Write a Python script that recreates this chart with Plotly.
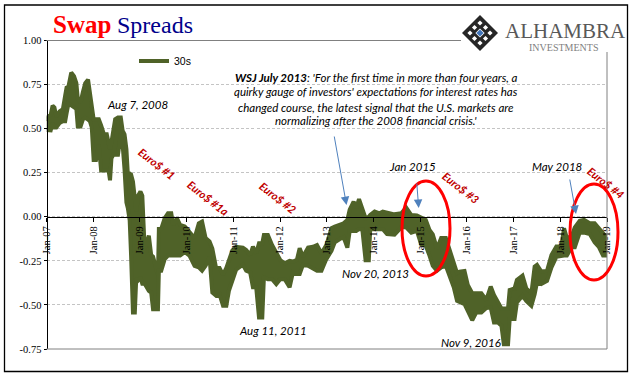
import pandas as pd
import plotly.graph_objects as go

# decimal year of each reading, with the top and bottom of the daily 30s swap spread band at that time
years = [2007.00,2007.04,2007.09,2007.13,2007.17,2007.21,2007.28,2007.35,2007.40,2007.43,2007.47,2007.53,2007.59,2007.64,2007.67,2007.73,2007.78,2007.83,2007.89,2007.93,2007.97,
 2008.01,2008.06,2008.12,2008.17,2008.23,2008.29,2008.33,2008.36,2008.39,2008.43,2008.47,2008.53,2008.59,2008.63,2008.67,2008.71,2008.74,2008.78,2008.81,2008.85,2008.89,2008.92,2008.96,
 2009.01,2009.05,2009.10,2009.19,2009.24,2009.28,2009.385,2009.405,2009.455,2009.53,2009.60,2009.67,2009.71,2009.79,2009.86,2009.96,
 2010.06,2010.17,2010.26,2010.33,2010.405,2010.49,2010.55,2010.63,2010.705,2010.78,2010.85,2010.905,2010.98,
 2011.06,2011.205,2011.275,2011.36,2011.42,2011.49,2011.55,2011.62,2011.655,2011.74,2011.83,2011.92,
 2012.005,2012.10,2012.205,2012.275,2012.36,2012.42,2012.49,2012.60,2012.705,2012.79,2012.885,2012.99,
 2013.10,2013.17,2013.28,2013.36,2013.44,2013.49,2013.575,2013.63,2013.69,2013.76,2013.83,2013.90,2013.93,
 2014.025,2014.13,2014.20,2014.29,2014.45,2014.595,2014.70,2014.81,2014.93,
 2015.02,2015.12,2015.20,2015.27,2015.36,2015.45,2015.55,2015.63,2015.72,2015.79,2015.844,2015.95,
 2016.02,2016.115,2016.20,2016.31,2016.415,2016.51,2016.58,2016.665,2016.74,2016.79,2016.88,2016.915,
 2017.02,2017.07,2017.19,2017.27,2017.38,2017.45,2017.50,2017.59,2017.715,2017.81,2017.915,
 2018.02,2018.08,2018.14,2018.24,2018.31,2018.415,2018.51,2018.63,2018.735,2018.83,2018.915,2019.00]
upper = [.543,.57,.578,.63,.62,.568,.598,.61,.688,.733,.738,.818,.798,.758,.668,.648,.708,.758,.778,.688,.628,
 .553,.553,.553,.518,.468,.468,.423,.383,.423,.488,.553,.563,.563,.488,.468,.383,.245,.245,.24,.20,.10,.03,.12,
 .143,.12,-.18,-.107,-.217,-.226,-.33,-.069,-.069,-.008,.02,.02,-.046,-.008,-.046,-.055,
 -.084,-.12,-.037,-.027,-.12,-.14,-.18,-.29,-.29,-.33,-.29,-.245,-.19,
 -.17,-.175,-.188,-.217,-.169,-.207,-.15,-.15,-.103,-.103,-.16,-.207,
 -.245,-.264,-.25,-.254,-.245,-.179,-.226,-.175,-.17,-.16,-.207,-.16,
 -.065,-.056,-.046,-.037,-.018,.04,.086,.05,.10,.05,-.008,0,.01,
 .03,.02,.03,.025,.014,.02,.052,.01,.007,
 -.004,-.018,-.075,-.10,-.18,-.12,-.12,-.19,-.264,-.32,-.311,-.307,
 -.387,-.434,-.434,-.434,-.472,-.396,-.444,-.49,-.52,-.52,-.52,-.415,
 -.406,-.358,-.334,-.406,-.434,-.283,-.273,-.31,-.307,-.217,-.169,
 -.169,-.065,-.12,-.112,-.06,-.023,-.018,-.037,-.037,-.065,-.093,-.12]
lower = [.492,.492,.49,.53,.507,.507,.532,.542,.542,.587,.642,.632,.622,.612,.512,.512,.552,.562,.552,.542,.507,
 .322,.322,.407,.262,.262,.262,.262,.207,.332,.352,.352,.352,.472,.407,.267,.082,.05,-.02,-.22,-.543,-.543,-.35,-.36,
 -.344,-.38,-.38,-.42,-.43,-.524,-.524,-.306,-.306,-.24,-.22,-.22,-.22,-.22,-.22,-.20,
 -.22,-.278,-.287,-.306,-.278,-.23,-.43,-.448,-.44,-.505,-.505,-.42,-.354,
 -.30,-.272,-.306,-.315,-.40,-.40,-.571,-.571,-.344,-.354,-.354,-.382,
 -.354,-.354,-.40,-.316,-.325,-.325,-.272,-.278,-.297,-.306,-.306,-.24,
 -.193,-.145,-.126,-.117,-.175,-.08,-.08,-.08,-.07,-.07,-.246,-.246,-.07,
 -.07,-.07,-.07,-.098,-.102,-.06,-.06,-.09,-.08,
 -.155,-.165,-.22,-.278,-.306,-.287,-.278,-.344,-.40,-.477,-.485,-.495,
 -.533,-.587,-.543,-.543,-.518,-.515,-.60,-.60,-.619,-.723,-.723,-.58,
 -.58,-.486,-.448,-.477,-.505,-.44,-.372,-.382,-.363,-.287,-.227,
 -.22,-.22,-.22,-.173,-.173,-.09,-.09,-.098,-.145,-.173,-.22,-.22]
series_name = "30s"
y_ticks = [1.0, .75, .5, .25, 0, -.25, -.5, -.75]
y_labels = ["1.00", "0.75", "0.50", "0.25", "0.00", "-0.25", "-0.50", "-0.75"]
x_ticks = [f"{y}-01-01" for y in range(2007, 2020)]

W, H = 641, 381
L, R, T, B = 46.5, 607, 40.5, 349
def to_date(v):
    y = int(v); s = pd.Timestamp(f"{y}-01-01"); e = pd.Timestamp(f"{y+1}-01-01")
    return s + (e - s) * (v - y)
def px(x): return x / W
def py(y): return 1 - y / H

dates = [to_date(v) for v in years]
OLIVE, BLUE = "#4f6228", "#4f81bd"
DARK = "#262626"

fig = go.Figure()
fig.add_trace(go.Scatter(x=dates, y=upper, mode="lines", name=series_name, line=dict(color=OLIVE, width=4)))
fig.add_trace(go.Scatter(x=dates, y=lower, mode="lines", name=series_name, showlegend=False,
                         line=dict(color=OLIVE, width=4), fill="tonexty", fillcolor=OLIVE))

shapes = [
    dict(type="rect", xref="paper", yref="paper", x0=px(4.5), x1=px(627.5), y0=py(371.5), y1=py(5), line=dict(color="#000", width=1.3), layer="below"),
    dict(type="line", xref="paper", yref="paper", x0=px(L), x1=px(461), y0=py(T), y1=py(T), line=dict(color="#808080", width=1)),
    dict(type="line", xref="paper", yref="paper", x0=px(L), x1=px(R), y0=py(B), y1=py(B), line=dict(color="#808080", width=1)),
    dict(type="line", xref="paper", yref="paper", x0=px(R), x1=px(R), y0=py(52), y1=py(B), line=dict(color="#808080", width=1)),
    dict(type="circle", xref="paper", yref="paper", x0=px(402), x1=px(450), y0=py(276), y1=py(181), line=dict(color="#ff0000", width=3)),
    dict(type="circle", xref="paper", yref="paper", x0=px(570), x1=px(618), y0=py(280), y1=py(184), line=dict(color="#ff0000", width=3)),
]
# logo: lattice diamond
cx, cy, r = 480, 33, 18
def diamond(x, y, a, **kw):
    pts = [(x, y - a), (x + a, y), (x, y + a), (x - a, y)]
    path = "M " + " L ".join(f"{px(p)} {py(q)}" for p, q in pts) + " Z"
    return dict(type="path", xref="paper", yref="paper", path=path, **kw)
shapes.append(diamond(cx, cy, r, fillcolor=DARK, line=dict(width=0)))
for dx, dy in [(0, -10), (10, 0), (0, 10), (-10, 0), (-5.5, -5.5), (5.5, -5.5), (5.5, 5.5), (-5.5, 5.5)]:
    shapes.append(diamond(cx + dx, cy + dy, 2.6, fillcolor="#fff", line=dict(width=0)))
shapes.append(diamond(cx, cy, 4.6, fillcolor="#fff", line=dict(width=0)))
shapes.append(diamond(cx, cy, 3.6, fillcolor="#3f73b8", line=dict(width=0)))

NOTE = dict(family="Lato, Noto Sans, sans-serif", size=11.5, color="#000", style="italic")
def note(text, x, y, font=NOTE, angle=0, align="center"):
    return dict(text=text, xref="paper", yref="paper", x=px(x), y=py(y), xanchor="center", yanchor="middle",
                showarrow=False, font=font, textangle=angle, align=align)
def arrow(x0, y0, x1, y1):
    return dict(text="", xref="paper", yref="paper", x=px(x1), y=py(y1), ax=x0 - x1, ay=y0 - y1, axref="pixel", ayref="pixel",
                showarrow=True, arrowhead=2, arrowsize=1.7, arrowwidth=1, arrowcolor=BLUE, standoff=0)
RED = dict(family="Lato, Noto Sans, sans-serif", size=11, color="#c00000", weight="bold", style="italic")
TNR = "Liberation Serif, serif"
annotations = [
    dict(text="<b>Swap</b>", xref="paper", yref="paper", x=px(51), y=py(24.5), xanchor="left", yanchor="middle", showarrow=False,
         font=dict(family=TNR, size=25, color="#ff0000")),
    dict(text="Spreads", xref="paper", yref="paper", x=px(115), y=py(24.5), xanchor="left", yanchor="middle", showarrow=False,
         font=dict(family=TNR, size=24, color="#00008b")),
    note("Aug 7, 2008", 137, 105), note("Aug 11, 2011", 273, 330), note("Nov 20, 2013", 375, 273),
    note("Jan 2015", 412, 166), note("May 2018", 557, 166), note("Nov 9, 2016", 471, 342),
    note("<b>WSJ July 2013</b>: 'For the first time in more than four years, a", 376.5, 77),
    note("quirky gauge of investors' expectations for interest rates has", 376.5, 92),
    note("changed course, the latest signal that the U.S. markets are", 376.5, 107),
    note("normalizing after the 2008 financial crisis.'", 376.5, 121),
    note("Euro$ #1", 157, 163, RED, 38), note("Euro$ #1a", 209, 198, RED, 38), note("Euro$ #2", 278, 197, RED, 38),
    note("Euro$ #3", 461, 187, RED, 38), note("Euro$ #4", 606, 182, RED, 38),
    arrow(334, 135, 346.5, 205), arrow(416.7, 182, 418.7, 208), arrow(569.5, 178, 576, 214),
    dict(text="ALHAMBRA", xref="paper", yref="paper", x=px(502.5), y=py(30.5), xanchor="left", yanchor="middle", showarrow=False,
         font=dict(family=TNR, size=21, color="#595959")),
    dict(text="INVESTMENTS", xref="paper", yref="paper", x=px(563), y=py(47), xanchor="center", yanchor="middle", showarrow=False,
         font=dict(family=TNR, size=10, color="#7f7f7f")),
]

fig.update_layout(
    width=W, height=H, autosize=False, margin=dict(l=0, r=0, t=0, b=0, autoexpand=False), paper_bgcolor="#fff", plot_bgcolor="#fff",
    shapes=shapes, annotations=annotations,
    legend=dict(x=px(134), y=py(61), xanchor="left", yanchor="middle", xref="paper", yref="paper", bgcolor="rgba(0,0,0,0)",
                font=dict(family="Liberation Sans, sans-serif", size=10.5, color="#000"), itemwidth=30),
    xaxis=dict(domain=[px(L), px(R)], type="date", range=["2007-01-01", "2019-01-01"], tickvals=x_ticks, tickformat="%b-%y",
               tickangle=-90, ticks="outside", ticklen=4, tickcolor="#000", anchor="free", position=py(217), side="bottom",
               showline=True, linecolor="#000", linewidth=1.2, showgrid=False, zeroline=False, automargin=False,
               tickfont=dict(family=TNR, size=10.5, color="#000")),
    yaxis=dict(domain=[py(B), py(T)], range=[-.75, 1], tickvals=y_ticks, ticktext=y_labels, ticks="outside", ticklen=3, tickcolor="#000",
               showline=True, linecolor="#000", linewidth=1, showgrid=True, gridcolor="#c4c4c4", griddash="3px,2px", gridwidth=1,
               zeroline=False, anchor="free", position=px(L), automargin=False, tickfont=dict(family=TNR, size=10.5, color="#000")),
)
fig.write_html("out.html", config=dict(displayModeBar=False),
               post_script="document.body.style.margin='0';document.documentElement.style.overflow='hidden';")
